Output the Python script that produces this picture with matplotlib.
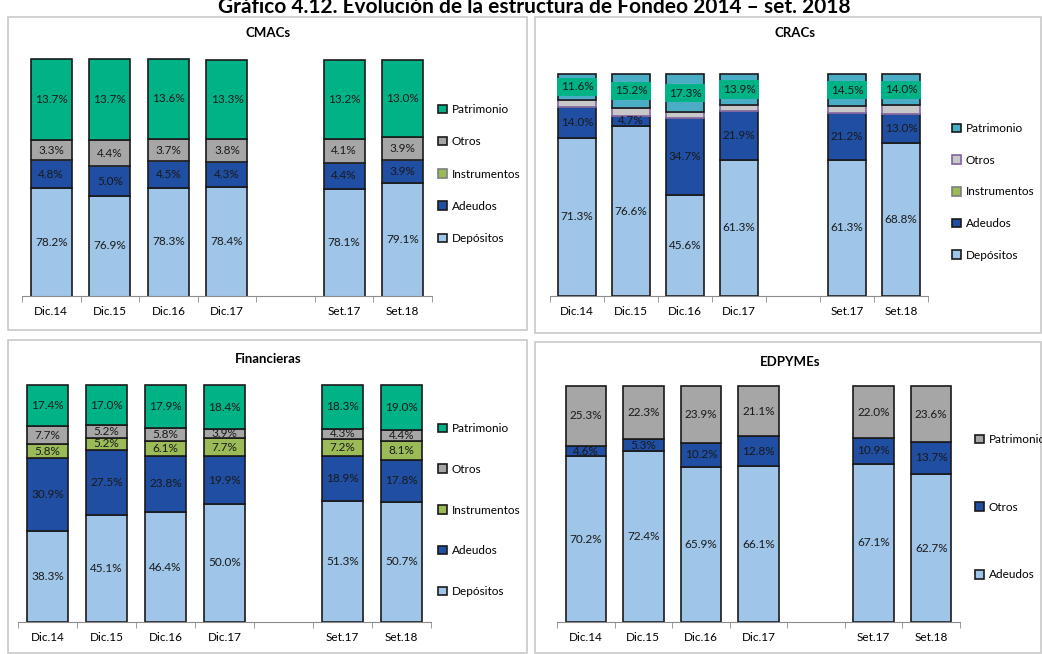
import matplotlib.pyplot as plt
from matplotlib.patches import Rectangle

plt.rcParams['font.family'] = ['Lato', 'DejaVu Sans']

W, H = 1042, 654

periodos = ['Dic.14', 'Dic.15', 'Dic.16', 'Dic.17', 'Set.17', 'Set.18']
posiciones = [0, 1, 2, 3, 5, 6]     # hueco entre Dic.17 y Set.17

# CMACs
cmac_depositos = [78.2, 76.9, 78.3, 78.4, 78.1, 79.1]
cmac_adeudos = [4.8, 5.0, 4.5, 4.3, 4.4, 3.9]
cmac_instrumentos = [0, 0, 0, 0, 0, 0]
cmac_otros = [3.3, 4.4, 3.7, 3.8, 4.1, 3.9]
cmac_patrimonio = [13.7, 13.7, 13.6, 13.3, 13.2, 13.0]

# CRACs (otros sin etiqueta en el original)
crac_depositos = [71.3, 76.6, 45.6, 61.3, 61.3, 68.8]
crac_adeudos = [14.0, 4.7, 34.7, 21.9, 21.2, 13.0]
crac_instrumentos = [0, 0, 0, 0, 0, 0]
crac_otros = [3.1, 3.5, 2.4, 2.9, 3.0, 4.2]
crac_patrimonio = [11.6, 15.2, 17.3, 13.9, 14.5, 14.0]

# Financieras
fin_depositos = [38.3, 45.1, 46.4, 50.0, 51.3, 50.7]
fin_adeudos = [30.9, 27.5, 23.8, 19.9, 18.9, 17.8]
fin_instrumentos = [5.8, 5.2, 6.1, 7.7, 7.2, 8.1]
fin_otros = [7.7, 5.2, 5.8, 3.9, 4.3, 4.4]
fin_patrimonio = [17.4, 17.0, 17.9, 18.4, 18.3, 19.0]

# EDPYMEs
edp_adeudos = [70.2, 72.4, 65.9, 66.1, 67.1, 62.7]
edp_otros = [4.6, 5.3, 10.2, 12.8, 10.9, 13.7]
edp_patrimonio = [25.3, 22.3, 23.9, 21.1, 22.0, 23.6]

C_DEP = '#9fc5e8'
C_ADE = '#1f4ea3'
C_INS = '#9bbb59'
C_OTR = '#a6a6a6'
C_PAT = '#00b386'
C_PAT2 = '#4bacc6'
C_OTR2 = '#c8c8c8'
EDGE = '#1a1a1a'


def px_rect(left, top, right, bottom):
    return [left / W, 1 - bottom / H, (right - left) / W, (bottom - top) / H]


def panel(fig, rect, titulo, title_xy, series, leg_xy, leg_spacing, ymin=0, top=100.5):
    ax = fig.add_axes(px_rect(*rect))
    base = [0] * len(periodos)
    handles = []
    for nombre, vals, color, edge, etiqueta, caja in series:
        ax.bar(posiciones, vals, 0.7, bottom=base, color=color,
               edgecolor=edge, linewidth=1.2, zorder=2)
        if etiqueta:
            for x, b, v in zip(posiciones, base, vals):
                if v <= 0:
                    continue
                kw = {}
                if caja:
                    kw['bbox'] = dict(boxstyle='square,pad=0.3', fc=C_PAT, ec='none')
                # centro de la parte visible del segmento
                y = (max(b, ymin) + b + v) / 2
                ax.text(x, y, f'{v:.1f}%', ha='center', va='center',
                        fontsize=8.5, color='#1a1a1a', zorder=3, **kw)
        base = [b + v for b, v in zip(base, vals)]
        handles.append(Rectangle((0, 0), 1, 1, fc=color, ec=edge, lw=1.2, label=nombre))

    ax.set_xlim(-0.5, 6.5)
    ax.set_ylim(ymin, top)
    ax.set_xticks(posiciones)
    ax.set_xticklabels(periodos, fontsize=8.5)
    ax.set_xticks([i - 0.5 for i in range(8)], minor=True)
    ax.tick_params(axis='x', which='major', length=0, pad=7)
    ax.tick_params(axis='x', which='minor', length=4, color='#8c8c8c')
    ax.set_yticks([])
    for s in ['top', 'right', 'left']:
        ax.spines[s].set_visible(False)
    ax.spines['bottom'].set_color('#8c8c8c')

    fig.text(title_xy[0] / W, 1 - title_xy[1] / H, titulo, ha='center', va='center',
             fontsize=9.5, fontweight='bold')
    fig.legend(handles=handles[::-1], loc='upper left',
               bbox_to_anchor=(leg_xy[0] / W, 1 - leg_xy[1] / H),
               frameon=False, fontsize=8.5, handlelength=0.75, handleheight=0.75,
               handletextpad=0.4, labelspacing=leg_spacing, borderpad=0, borderaxespad=0)
    return ax


fig = plt.figure(figsize=(W / 100, H / 100), dpi=100)

# marcos de los paneles
for l, t, r, b in [(8, 17, 527, 330), (535, 17, 1041, 333), (8, 340, 527, 653), (535, 342, 1041, 653)]:
    fig.patches.append(Rectangle((l / W, 1 - b / H), (r - l) / W, (b - t) / H,
                                 transform=fig.transFigure, fill=False,
                                 ec='#c8c8c8', lw=1.2))

fig.text(534 / W, 1 - 13 / H, 'Gráfico 4.12. Evolución de la estructura de Fondeo 2014 – set. 2018',
         ha='center', va='baseline', fontsize=15, fontweight='bold')

panel(fig, (22, 58, 432, 296), 'CMACs', (268, 33), [
    ('Depósitos', cmac_depositos, C_DEP, EDGE, True, False),
    ('Adeudos', cmac_adeudos, C_ADE, EDGE, True, False),
    ('Instrumentos', cmac_instrumentos, C_INS, '#7f7f7f', False, False),
    ('Otros', cmac_otros, C_OTR, EDGE, True, False),
    ('Patrimonio', cmac_patrimonio, C_PAT, EDGE, True, False),
], (438, 104), 1.8, ymin=60, top=100.2)

panel(fig, (550, 73, 928, 296), 'CRACs', (795, 33), [
    ('Depósitos', crac_depositos, C_DEP, EDGE, True, False),
    ('Adeudos', crac_adeudos, C_ADE, EDGE, True, False),
    ('Instrumentos', crac_instrumentos, C_INS, '#7f7f7f', False, False),
    ('Otros', crac_otros, C_OTR2, '#8064a2', False, False),
    ('Patrimonio', crac_patrimonio, C_PAT2, EDGE, True, True),
], (952, 123), 1.75)

panel(fig, (18, 384, 431, 622), 'Financieras', (268, 359), [
    ('Depósitos', fin_depositos, C_DEP, EDGE, True, False),
    ('Adeudos', fin_adeudos, C_ADE, EDGE, True, False),
    ('Instrumentos', fin_instrumentos, C_INS, EDGE, True, False),
    ('Otros', fin_otros, C_OTR, EDGE, True, False),
    ('Patrimonio', fin_patrimonio, C_PAT, EDGE, True, False),
], (438, 423), 2.52)

panel(fig, (557, 385, 960, 622), 'EDPYMEs', (790, 362), [
    ('Adeudos', edp_adeudos, C_DEP, EDGE, True, False),
    ('Otros', edp_otros, C_ADE, EDGE, True, False),
    ('Patrimonio', edp_patrimonio, C_OTR, EDGE, True, False),
], (975, 434), 4.8)

fig.savefig('out.png', dpi=100)
